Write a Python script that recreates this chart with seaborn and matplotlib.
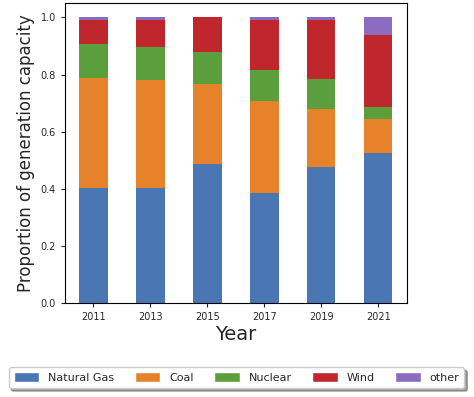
import pandas as pd
import matplotlib.pyplot as plt
from matplotlib.patches import Patch
import seaborn as sns

# --- Data ---
years = ["2011", "2013", "2015", "2017", "2019", "2021"]
sources = ["Natural Gas", "Coal", "Nuclear", "Wind", "other"]
natural_gas = [0.401, 0.404, 0.487, 0.386, 0.476, 0.524]
coal = [0.387, 0.377, 0.280, 0.322, 0.204, 0.119]
nuclear = [0.120, 0.114, 0.113, 0.108, 0.106, 0.042]
wind = [0.083, 0.096, 0.120, 0.175, 0.205, 0.255]
other = [0.009, 0.009, 0.000, 0.009, 0.009, 0.060]

colors = ["#4a76b4", "#e6832a", "#5a9f3c", "#c0272d", "#8c6cc0"]

# --- Long form table ---
wide = pd.DataFrame({"Year": years, "Natural Gas": natural_gas, "Coal": coal,
                     "Nuclear": nuclear, "Wind": wind, "other": other})
df = wide.melt(id_vars="Year", var_name="source", value_name="share")

sns.set_style("ticks")
plt.rcParams["font.family"] = ["DejaVu Sans"]

fig, ax = plt.subplots(figsize=(4.74, 3.97), dpi=100)
# histplot stacks the first hue level on top, so feed the order reversed
sns.histplot(data=df, x="Year", weights="share", hue="source",
             hue_order=sources[::-1], palette=colors[::-1],
             multiple="stack", discrete=True, shrink=0.5,
             alpha=1, linewidth=0, ax=ax, legend=False)

ax.set_ylim(0, 1.05)
ax.set_xlim(-0.5, len(years) - 0.5)
ax.set_yticks([0, 0.2, 0.4, 0.6, 0.8, 1.0])
ax.tick_params(labelsize=7, length=3, width=0.8)
ax.set_xlabel("Year", fontsize=14, labelpad=2)
ax.set_ylabel("Proportion of generation capacity", fontsize=12)
for s in ax.spines.values():
    s.set_visible(True)
    s.set_linewidth(0.8)
    s.set_color("black")

handles = [Patch(facecolor=c, label=s) for c, s in zip(colors, sources)]
fig.legend(handles=handles, loc="lower left",
           bbox_to_anchor=(3 / 474, 0.008, 467 / 474, 0.06), mode="expand",
           ncol=5, frameon=True, fontsize=8, handlelength=2.3,
           handleheight=1.0, handletextpad=0.8, borderpad=0.45,
           fancybox=True, shadow=True)

fig.subplots_adjust(left=0.137, right=0.858, top=0.992, bottom=0.237)
plt.savefig("out.png")
